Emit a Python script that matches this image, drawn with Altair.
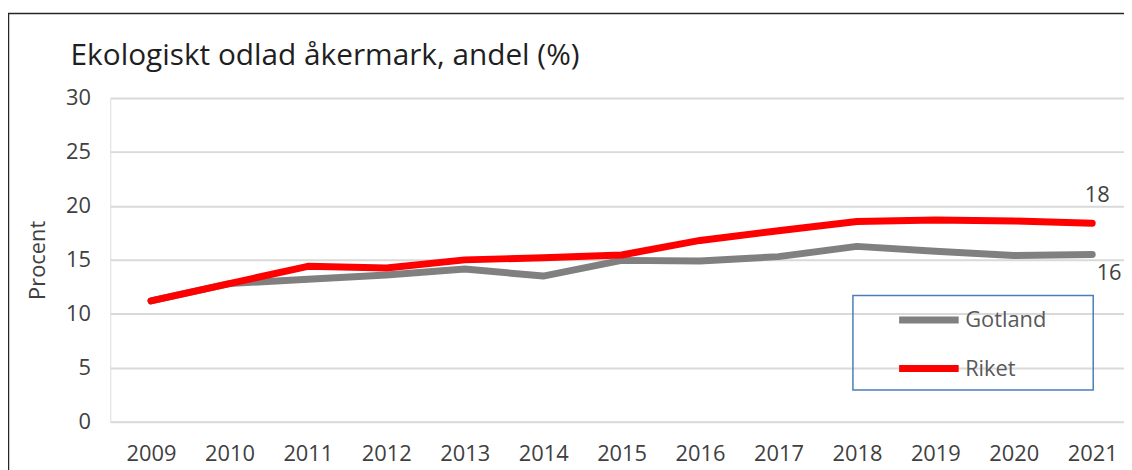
import altair as alt
import pandas as pd

years = [2009, 2010, 2011, 2012, 2013, 2014, 2015, 2016, 2017, 2018, 2019, 2020, 2021]
gotland = [11.2, 12.8, 13.2, 13.6, 14.15, 13.5, 14.95, 14.9, 15.3, 16.25, 15.8, 15.4, 15.5]
riket = [11.2, 12.8, 14.4, 14.25, 15.0, 15.2, 15.45, 16.8, 17.7, 18.55, 18.7, 18.6, 18.4]
series = ["Gotland", "Riket"]
colors = ["#808080", "#ff0000"]
y_ticks = [0, 5, 10, 15, 20, 25, 30]

rows = []
for name, vals in zip(series, [gotland, riket]):
    for yr, v in zip(years, vals):
        rows.append({"year": yr, "value": v, "series": name})
df = pd.DataFrame(rows)
last = df[df["year"] == years[-1]]

FONT = "Open Sans"
W, H = 1021, 326

x_enc = alt.X("year:Q", scale=alt.Scale(domain=[2008.481, 2021.405], nice=False, zero=False),
              axis=alt.Axis(title=None, values=years, format="d", labelAngle=0, domain=False,
                            ticks=False, tickSize=0, labelPadding=22, labelFontSize=22,
                            labelFont=FONT, labelColor="#404040", grid=False,
                            labelOverlap=False, labelFlush=False))
y_enc = alt.Y("value:Q", scale=alt.Scale(domain=[0, 30], nice=False),
              axis=alt.Axis(title="Procent", values=y_ticks, domain=False, ticks=False, tickSize=0,
                            labelPadding=20, labelFontSize=22, labelFont=FONT, labelColor="#404040",
                            titleFontSize=22, titleFont=FONT, titleColor="#404040",
                            titleFontWeight="normal", titlePadding=16,
                            gridColor="#d9d9d9", gridWidth=2))

lines = alt.Chart(df).mark_line(strokeWidth=7, strokeCap="round", strokeJoin="round").encode(
    x=x_enc,
    y=y_enc,
    color=alt.Color("series:N", scale=alt.Scale(domain=series, range=colors),
                    legend=alt.Legend(orient="none", legendX=811, legendY=210, title=None,
                                      symbolType="M-3,0H3", symbolSize=400, symbolStrokeWidth=7,
                                      labelFontSize=22, labelFont=FONT, labelColor="#595959",
                                      rowPadding=20, labelOffset=23, padding=0)),
    order=alt.Order("year:Q"),
)

lab18 = alt.Chart(last[last["series"] == "Riket"]).mark_text(
    fontSize=22, font=FONT, color="#404040", dy=-28, dx=5).encode(
    x="year:Q", y="value:Q", text=alt.Text("value:Q", format=".0f"))
lab16 = alt.Chart(last[last["series"] == "Gotland"]).mark_text(
    fontSize=22, font=FONT, color="#404040", dy=19, dx=17).encode(
    x="year:Q", y="value:Q", text=alt.Text("value:Q", format=".0f"))

deco = pd.DataFrame({"k": [0]})
legend_box = alt.Chart(deco).mark_rect(fill=None, stroke="#4a7ebb", strokeWidth=1.5).encode(
    x=alt.value(748), x2=alt.value(990), y=alt.value(199), y2=alt.value(294))
border = alt.Chart(deco).mark_rect(fill=None, stroke="#262626", strokeWidth=1.5).encode(
    x=alt.value(-102.5), x2=alt.value(1100), y=alt.value(-85), y2=alt.value(400))

chart = alt.layer(border, lines, lab18, lab16, legend_box).properties(
    width=W, height=H,
    autosize=alt.AutoSizeParams(type="none"),
    padding={"left": 103, "top": 89, "right": 0, "bottom": 47},
    title=alt.TitleParams("Ekologiskt odlad åkermark, andel (%)", anchor="start", frame="group",
                          dx=-40, dy=83, offset=0, baseline="alphabetic", fontSize=30, font=FONT,
                          fontWeight="normal", color="#1f1f1f"),
).configure_view(stroke=None).configure(background="white")

chart.save("out.html", embed_options={"renderer": "svg", "actions": False})
